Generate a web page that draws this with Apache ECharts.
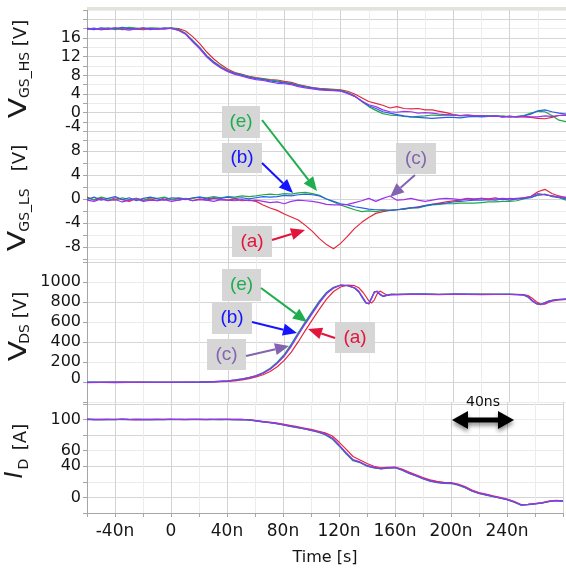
<!DOCTYPE html>
<html><head><meta charset="utf-8">
<script src="https://cdn.jsdelivr.net/npm/echarts@6/dist/echarts.min.js"></script>
<style>html,body{margin:0;padding:0;background:#fff}#c{width:566px;height:569px}</style>
</head><body><div id="c"></div>
<script>
// ---------- data (time in ns) ----------
const timeNs = [-60,-55,-50,-45,-40,-35,-30,-25,-20,-15,
  -10,-5,0,5,10,15,20,25,30,35,
  40,45,50,55,60,65,70,75,80,85,
  90,95,100,105,110,115,120,125,130,135,
  140,145,150,155,160,165,170,175,180,185,
  190,195,200,205,210,215,220,225,230,235,
  240,245,250,255,260,265,270,275,280];

// V_GS_HS [V]
const vgsHsA = [17.9,18.0,17.8,17.9,18.1,17.8,18.0,17.9,17.8,18.0,
  17.9,18.0,18.1,18.0,17.5,16.3,14.8,13.0,11.5,10.3,
  9.3,8.6,8.2,7.8,7.5,7.3,7.1,7.0,6.7,6.5,
  6.0,5.7,5.4,5.2,5.1,5.0,4.9,4.6,4.0,3.2,
  2.4,2.0,1.6,1.0,1.3,0.9,0.8,0.9,0.6,0.6,
  0.3,0.0,-0.4,-0.6,-0.5,-0.6,-0.7,-0.8,-0.7,-0.9,
  -0.8,-0.9,-0.9,-1.0,-1.2,-1.3,-1.0,-0.6,-0.5];
const vgsHsB = [18.0,17.8,18.2,17.9,18.0,18.3,18.0,17.9,18.2,18.0,
  17.9,18.2,18.0,17.7,16.9,15.4,13.9,12.1,10.8,9.7,
  8.9,8.4,8.0,7.6,7.3,7.1,6.8,6.6,6.4,6.2,
  5.8,5.5,5.3,5.0,4.9,4.8,4.7,4.2,3.5,2.5,
  1.5,0.9,0.2,-0.1,-0.4,-0.7,-0.9,-1.0,-1.1,-1.2,
  -1.1,-1.0,-1.0,-1.1,-0.9,-0.8,-0.9,-0.8,-0.7,-0.9,
  -0.8,-0.9,-0.7,-0.3,0.4,0.6,0.2,-0.1,-0.3];
const vgsHsC = [17.9,18.1,17.8,18.0,18.2,17.9,17.7,18.0,18.1,17.8,
  18.0,17.9,18.1,17.6,16.8,15.2,13.7,11.9,10.6,9.6,
  8.8,8.2,7.8,7.4,7.1,6.9,6.6,6.3,6.2,6.0,
  5.6,5.3,5.1,4.9,4.8,4.7,4.6,4.1,3.5,2.5,
  1.7,1.3,0.6,0.2,0.1,0.3,0.2,-0.1,0.0,-0.1,
  -0.3,-0.4,-0.5,-0.6,-0.5,-0.7,-0.6,-0.8,-0.7,-0.9,
  -0.8,-0.9,-0.8,-0.9,-0.9,-0.7,-0.8,-0.6,-0.5];
const vgsHsE = [18.1,17.9,18.0,18.2,17.8,18.0,18.3,18.1,17.9,18.2,
  18.1,18.0,18.2,17.8,17.0,15.5,14.0,12.2,10.9,9.9,
  9.0,8.5,8.1,7.7,7.4,7.2,7.0,6.8,6.5,6.3,
  5.9,5.6,5.3,5.1,5.0,4.9,4.8,4.3,3.6,2.4,
  1.3,0.5,-0.2,-0.5,-0.6,-0.8,-0.9,-0.8,-0.7,-0.5,
  -0.6,-0.5,-0.5,-0.7,-0.6,-0.8,-0.7,-0.6,-0.8,-0.7,
  -0.9,-0.8,-0.6,-0.1,0.3,0.2,-0.6,-1.6,-1.9];

// V_GS_LS [V]
const vgsLsA = [0.3,-0.2,0.1,-0.3,0.2,-0.1,-0.4,0.1,-0.2,0.0,
  -0.3,0.2,-0.1,-0.2,0.1,-0.3,0.0,-0.2,0.1,-0.1,
  -0.2,0.0,-0.3,-0.2,-0.4,-1.0,-1.5,-1.9,-2.5,-3.0,
  -3.5,-4.4,-5.4,-6.6,-7.6,-8.3,-7.4,-6.2,-4.9,-3.9,
  -3.1,-2.4,-2.1,-1.9,-1.8,-1.7,-1.5,-1.3,-1.1,-0.9,
  -0.7,-0.5,-0.3,-0.2,0.0,-0.1,0.1,0.0,0.2,-0.1,
  0.1,0.0,0.2,0.4,1.2,1.6,0.9,0.5,0.2];
const vgsLsB = [-0.1,0.3,-0.2,0.1,0.4,-0.1,0.2,-0.3,0.1,0.3,
  0.0,-0.2,0.2,0.1,-0.1,0.2,0.3,0.0,0.2,0.1,
  0.3,0.1,0.2,0.0,0.2,0.4,0.3,0.4,0.6,0.5,
  0.7,0.8,0.7,0.5,0.0,-0.4,-0.8,-1.0,-1.3,-1.5,
  -1.7,-1.8,-1.8,-1.9,-1.8,-1.6,-1.5,-1.4,-1.1,-0.9,
  -0.8,-0.7,-0.5,-0.4,-0.3,-0.2,-0.2,-0.1,-0.2,0.0,
  -0.2,0.0,0.1,0.2,0.7,0.7,0.5,0.3,0.0];
const vgsLsC = [-0.2,-0.4,0.0,-0.3,-0.1,-0.5,-0.2,0.0,-0.4,-0.2,
  -0.3,-0.1,-0.4,-0.2,0.0,-0.3,-0.1,-0.2,-0.4,-0.1,
  -0.2,-0.3,-0.1,-0.3,-0.2,-0.4,-0.6,-0.5,-0.8,-0.4,
  -0.2,-0.3,-0.4,-0.6,-0.9,-1.0,-1.0,-0.9,-0.6,-0.3,
  0.1,-0.4,0.1,0.5,-0.2,-0.1,0.1,-0.2,-0.4,-0.2,
  0.0,0.1,0.0,-0.1,0.1,0.0,0.1,-0.1,0.0,0.1,
  0.0,0.1,0.2,0.4,0.9,0.7,0.5,0.3,0.3];
const vgsLsE = [0.2,-0.1,0.3,0.0,-0.2,0.2,-0.1,0.1,-0.3,0.2,
  0.1,0.3,-0.1,0.2,0.0,0.1,0.3,0.2,0.4,0.2,
  0.4,0.3,0.5,0.4,0.5,0.7,0.8,0.7,0.9,0.8,
  1.0,1.1,0.9,0.6,0.0,-0.5,-1.0,-1.4,-1.8,-2.1,
  -2.0,-2.1,-1.9,-1.9,-1.8,-1.7,-1.5,-1.5,-1.2,-1.0,
  -0.9,-0.8,-0.8,-0.7,-0.7,-0.7,-0.6,-0.5,-0.5,-0.4,
  -0.4,-0.3,0.0,0.3,0.6,0.8,0.4,0.2,-0.2];

// V_DS [V]
const timeVdsNs = [-60,-40,-20,0,20,30,40,45,50,55,
  60,65,70,75,80,85,90,95,100,105,
  110,115,120,125,130,133,136,138,140,142,
  144,146,148,150,153,156,160,170,180,190,
  200,210,220,230,240,245,250,253,256,259,
  262,265,268,271,275,280];
const vdsA = [-2,1,3,-1,1,3,9,15,24,36,
  53,75,108,155,219,301,406,519,627,732,
  831,908,953,972,966,945,898,858,815,792,
  825,885,912,895,870,876,880,878,881,879,
  880,878,881,879,880,879,878,868,840,805,
  782,782,800,815,825,830];
const vdsB = [2,-3,1,-2,2,5,13,21,32,45,
  63,90,130,192,268,368,485,595,700,805,
  892,946,971,967,943,905,838,795,785,842,
  903,910,878,860,870,880,877,880,882,878,
  879,882,878,879,880,876,873,855,815,786,
  777,795,812,821,828,831];
const vdsC = [-3,2,-2,1,3,6,14,22,33,46,
  64,92,132,190,262,360,475,585,690,795,
  885,942,970,968,945,910,845,800,782,835,
  900,912,882,862,868,878,876,882,879,877,
  881,880,877,880,878,877,874,858,818,788,
  775,792,810,820,827,830];
const vdsE = [1,3,-1,2,4,7,15,24,35,48,
  68,97,140,202,280,382,498,608,712,815,
  898,950,973,966,940,900,832,792,788,848,
  906,908,875,860,872,882,880,884,883,880,
  884,881,883,880,881,878,872,852,812,785,
  778,797,814,822,829,832];

// I_D [A]
const idA = [100.3,99.9,100.1,99.8,100.2,100.0,99.7,100.2,99.9,100.1,
  99.8,100.2,100.0,99.9,100.1,100.0,99.8,100.2,100.0,99.9,
  100.1,100.0,99.8,99.8,98.8,97.7,96.6,95.5,93.9,92.3,
  90.8,89.0,87.2,85.2,82.8,79.0,71.0,62.0,52.5,48.0,
  43.5,40.0,38.0,38.5,39.0,36.5,32.5,29.0,25.5,22.5,
  20.5,19.2,19.0,17.2,14.0,9.5,6.3,4.2,2.0,0.0,
  -2.2,-5.0,-9.2,-8.8,-7.8,-6.8,-4.8,-3.8,-4.4];
const idB = [99.9,100.2,99.8,100.1,99.9,100.3,100.0,99.8,100.1,99.9,
  100.2,99.9,100.1,100.0,99.8,100.1,100.0,99.9,100.1,100.2,
  100.0,99.8,100.0,99.5,98.4,97.2,96.1,94.9,93.2,91.5,
  89.9,88.1,86.2,84.0,81.2,76.0,67.0,57.0,48.0,45.0,
  40.5,38.2,36.8,37.8,38.3,35.2,31.2,27.8,24.2,21.2,
  19.2,18.3,18.2,16.2,12.8,8.2,5.2,3.2,1.2,-0.8,
  -2.8,-5.8,-9.8,-9.2,-8.2,-7.2,-5.2,-4.2,-4.8];
const idC = [100.5,99.8,100.2,100.0,99.6,100.3,99.9,100.1,99.7,100.2,
  100.0,99.8,100.3,100.1,99.9,100.2,100.0,99.8,100.1,100.0,
  100.2,99.9,100.0,99.6,98.5,97.3,96.2,95.0,93.3,91.6,
  90.0,88.2,86.3,84.2,81.5,76.5,67.5,57.5,48.5,45.5,
  41.0,38.5,37.0,38.0,38.5,35.5,31.5,28.0,24.5,21.5,
  19.5,18.5,18.5,16.5,13.0,8.5,5.5,3.5,1.5,-0.5,
  -2.5,-5.5,-9.5,-9.0,-8.0,-7.0,-5.0,-4.0,-4.5];
const idE = [100.1,100.0,99.7,100.2,100.0,99.8,100.1,100.0,100.2,99.8,
  100.0,100.1,99.9,100.0,100.2,99.9,100.1,100.0,99.9,100.1,
  99.9,100.0,99.7,99.4,98.2,97.0,95.9,94.7,93.0,91.2,
  89.6,87.8,85.8,83.6,80.5,75.0,66.0,56.0,47.0,44.5,
  40.0,37.8,36.5,37.5,38.0,34.8,30.8,27.5,23.8,20.8,
  18.8,18.0,17.8,15.8,12.4,7.9,5.0,3.0,1.0,-1.0,
  -3.0,-6.0,-9.9,-9.3,-8.3,-7.3,-5.4,-4.3,-5.0];

const xTickLabels = {'-40':'-40n','0':'0','40':'40n','80':'80n','120':'120n','160':'160n','200':'200n','240':'240n'};
const yLabelsHs = [16,12,8,4,0,-4];
const yLabelsLs = [8,4,0,-4,-8];
const yLabelsVds = [1000,800,600,400,200,0];
const yLabelsId = [100,60,40,0];

const traceNames = ['(a)','(e)','(b)','(c)'];
const traceColors = ['#e3283c','#22a845','#2a5cf0','#9a34ec'];

// ---------- chart ----------
const chart = echarts.init(document.getElementById('c'), null, {renderer:'canvas'});
const FONT = 'DejaVu Sans';
const grids = [
  {left:87, right:0, top:10, height:130.7},
  {left:87, right:0, top:140.7, height:118.3},
  {left:87, right:0, top:259, height:143.3},
  {left:87, right:0, top:402.3, height:110.7}
];
const axisGray = '#a6a6a6';
function xAx(i){
  const bottom = i === 3;
  return {
    type:'value', gridIndex:i, min:-60, max:280, interval:20,
    axisLine:{show:bottom, onZero:false, lineStyle:{color:axisGray}},
    axisTick:{show:bottom, length:4, lineStyle:{color:axisGray}},
    axisLabel:{show:bottom, fontSize:17, fontFamily:FONT, color:'#151515', margin:10,
      formatter:v => (xTickLabels[String(v)] !== undefined ? xTickLabels[String(v)] : '')},
    splitLine:{show:true, lineStyle:{color:['#ececec','#d3d3d3'], width:1}},
    name: bottom ? 'Time [s]' : '', nameLocation:'middle', nameGap:37,
    nameTextStyle:{fontSize:16, fontFamily:FONT, color:'#151515'}
  };
}
function yAx(i, min, max, interval, labels, rich, shifted){
  return {
    type:'value', gridIndex:i, min:min, max:max, interval:interval,
    axisLine:{show:true, onZero:false, lineStyle:{color:axisGray}},
    axisTick:{show:true, length:4, lineStyle:{color:axisGray}},
    axisLabel:{fontSize:16, fontFamily:FONT, color:'#151515', margin:6,
      showMinLabel:true, showMaxLabel:true,
      formatter:v => {
        if (labels.indexOf(v) < 0) return '';
        if (shifted !== undefined && v === shifted) return '{u|' + v + '}';
        return String(v);
      },
      rich: rich},
    splitLine:{show:true, lineStyle:{color:['#ececec','#d5d5d5'], width:1}}
  };
}
const richUp = (pb) => ({u:{fontSize:16, fontFamily:FONT, color:'#151515', padding:[0,0,pb,0]}});

function mk(i, t, arrs){
  return arrs.map((a, k) => ({
    type:'line', name:traceNames[k], xAxisIndex:i, yAxisIndex:i,
    data: t.map((x, j) => [x, a[j]]),
    showSymbol:false, symbol:'none', clip:true,
    lineStyle:{width:1.2, color:traceColors[k]}, itemStyle:{color:traceColors[k]},
    z: 2 + k, animation:false
  }));
}

// annotation helpers (pixel graphics)
function arrow(x1,y1,x2,y2,color,w,head,hw){
  const a = Math.atan2(y2-y1, x2-x1);
  const bx = x2 - head*Math.cos(a), by = y2 - head*Math.sin(a);
  const px = -Math.sin(a)*hw, py = Math.cos(a)*hw;
  return [
    {type:'line', shape:{x1:x1,y1:y1,x2:bx,y2:by}, style:{stroke:color, lineWidth:w}, z:50},
    {type:'polygon', shape:{points:[[x2,y2],[bx+px,by+py],[bx-px,by-py]]}, style:{fill:color}, z:50}
  ];
}
function box(x,y,w,h,txt,color){
  return [
    {type:'rect', shape:{x:x,y:y,width:w,height:h}, style:{fill:'#d6d6d6'}, z:49},
    {type:'text', x:x+w/2, y:y+h/2, z:51,
      style:{text:txt, fill:color, font:'19px "Liberation Sans"', textAlign:'center', textVerticalAlign:'middle', align:'center', verticalAlign:'middle'}}
  ];
}
function rtext(x,y,txt,size,opts){
  opts = opts || {};
  return {type:'text', x:x, y:y, rotation:Math.PI/2, scaleX:opts.sx||1, z:40,
    style:{text:txt, fill:'#1a1a1a', font:(opts.italic?'italic ':'') + size + 'px "' + (opts.family||FONT) + '"',
      textAlign:'center', textVerticalAlign:'middle', align:'center', verticalAlign:'middle'}};
}

const cGreen = '#1fae4e', cBlue = '#1414ff', cPurple = '#8264b0', cRed = '#e2153c';
let gfx = [];
gfx.push({type:'rect', shape:{x:87, y:7, width:479, height:3}, style:{fill:'#e3e3dc'}, z:30});
// axis titles
gfx.push(rtext(20,108,'V',24,{sx:1.25}), rtext(25.5,75,'GS_HS',14), rtext(21,33,'[V]',18));
gfx.push(rtext(19,241,'V',24,{sx:1.25}), rtext(25.5,210,'GS_LS',14), rtext(20,158,'[V]',18));
gfx.push(rtext(20,351,'V',24,{sx:1.25}), rtext(25.5,334,'DS',14), rtext(21,305,'[V]',18));
gfx.push(rtext(16,475,'I',24,{italic:true}), rtext(24.5,464,'D',14), rtext(21,437,'[A]',18));
// labels + arrows
gfx = gfx.concat(box(222,106,38,32,'(e)',cGreen), arrow(262,120,317,191,cGreen,2,14,6));
gfx = gfx.concat(box(222,143,40,30,'(b)',cBlue), arrow(262,163,293,193,cBlue,2,14,6));
gfx = gfx.concat(box(396,143,40,31,'(c)',cPurple), arrow(415,175,390,197,cPurple,2,14,6));
gfx = gfx.concat(box(232,226,40,31,'(a)',cRed), arrow(272,240,305,230,cRed,2,14,6));
gfx = gfx.concat(box(222,269,39,32,'(e)',cGreen), arrow(261,288,307,322,cGreen,2,14,6));
gfx = gfx.concat(box(212,302,40,32,'(b)',cBlue), arrow(252,322,297,333,cBlue,2,14,6));
gfx = gfx.concat(box(207,339,39,31,'(c)',cPurple), arrow(246,356,289,346,cPurple,2,14,6));
gfx = gfx.concat(box(335,322,40,31,'(a)',cRed), arrow(335,338,308,329,cRed,2,14,6));
// 40ns scale arrow
const sh = {shadowBlur:4, shadowColor:'rgba(0,0,0,0.45)', shadowOffsetY:3};
gfx.push({type:'line', shape:{x1:466, y1:420, x2:500, y2:420}, style:Object.assign({stroke:'#000', lineWidth:5}, sh), z:50});
gfx.push({type:'polygon', shape:{points:[[452,420],[468,411],[468,429]]}, style:Object.assign({fill:'#000'}, sh), z:50});
gfx.push({type:'polygon', shape:{points:[[514,420],[498,411],[498,429]]}, style:Object.assign({fill:'#000'}, sh), z:50});
gfx.push({type:'text', x:483, y:402, z:51, style:{text:'40ns', fill:'#111', font:'14px "DejaVu Sans"', textAlign:'center', textVerticalAlign:'middle', align:'center', verticalAlign:'middle'}});

const option = {
  animation:false,
  backgroundColor:'#ffffff',
  grid: grids,
  xAxis: [xAx(0), xAx(1), xAx(2), xAx(3)],
  yAxis: [
    yAx(0, -6, 22, 2, yLabelsHs, richUp(9), -4),
    yAx(1, -10, 9.7, 2, yLabelsLs, {}),
    yAx(2, -200, 1233, 200, yLabelsVds, richUp(6), 0),
    yAx(3, -20, 122, 20, yLabelsId, {})
  ],
  series: [].concat(
    mk(0, timeNs, [vgsHsA, vgsHsE, vgsHsB, vgsHsC]),
    mk(1, timeNs, [vgsLsA, vgsLsE, vgsLsB, vgsLsC]),
    mk(2, timeVdsNs, [vdsA, vdsE, vdsB, vdsC]),
    mk(3, timeNs, [idA, idE, idB, idC])
  ),
  graphic: gfx
};
chart.setOption(option);
</script></body></html>
